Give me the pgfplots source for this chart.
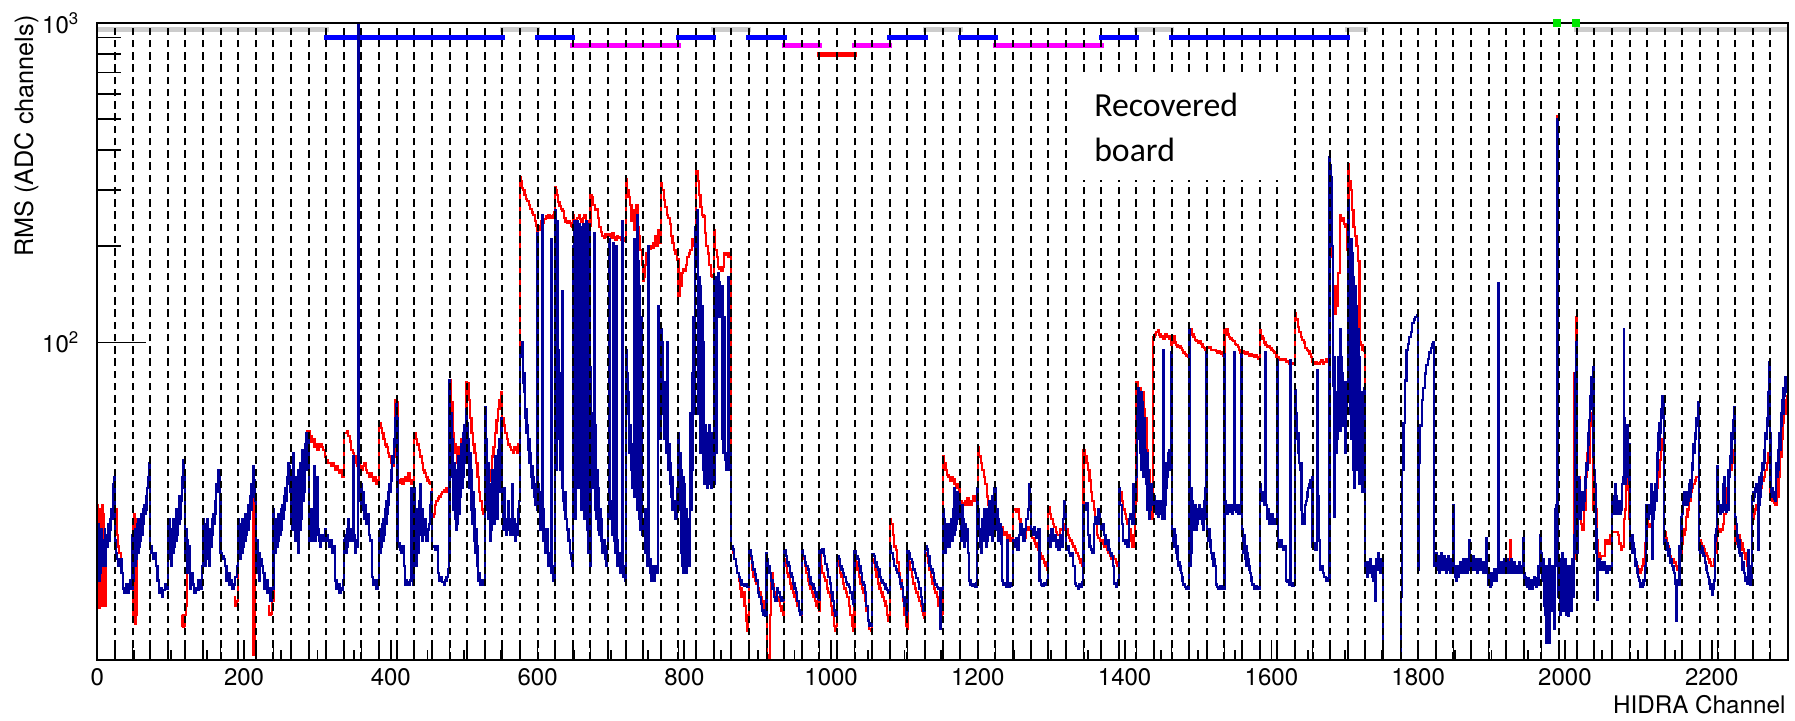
\documentclass[border=0pt]{standalone}
\usepackage{pgfplots}
\pgfplotsset{compat=1.18}
\usepackage{fontspec}
\setmainfont{TeX Gyre Heros}
\newfontfamily\calibri{Carlito}
\definecolor{rootblue}{RGB}{0,0,153}
\definecolor{rootred}{RGB}{255,0,0}
\definecolor{barblue}{RGB}{0,0,255}
\definecolor{bargray}{RGB}{204,204,204}
\definecolor{barmag}{RGB}{255,0,255}
\definecolor{barred}{RGB}{255,0,0}
\definecolor{bargreen}{RGB}{0,230,0}
\begin{document}
\begin{tikzpicture}
\useasboundingbox (0,0) rectangle (718pt,288.4pt);
\begin{axis}[
  at={(38.92pt,24.4pt)}, anchor=south west,
  scale only axis, width=676.28pt, height=254.8pt,
  xmin=0, xmax=2304, ymode=log, ymin=10.15, ymax=1000,
  axis line style={line width=0.8pt},
  xtick={0,200,...,2200},
  xticklabels={0,200,400,600,800,1000,1200,1400,1600,1800,2000,2200},
  minor x tick num=3,
  ytick={100,1000},
  yticklabels={10\textsuperscript{2},10\textsuperscript{3}},
  xtick pos=bottom, ytick pos=left,
  tick style={black, line width=0.7pt},
  every x tick/.append style={/pgfplots/major tick length=8pt,/pgfplots/minor tick length=4pt},
  every y tick/.append style={/pgfplots/major tick length=19.6pt,/pgfplots/minor tick length=9.6pt},
  ticklabel style={font=\fontsize{9.6}{11}\selectfont},
  yticklabel style={xshift=-3.6pt},
  extra x ticks={24,48,...,2280},
  extra x tick labels={},
  extra x tick style={grid=major, major tick length=0pt},
  major grid style={black, line width=0.8pt, dash pattern=on 3pt off 1.9pt},
  axis on top,
]
% top status bars
\addplot[bargray, line width=2pt, line cap=rect] coordinates {(0,954)(312,954)};
\addplot[bargray, line width=2pt, line cap=rect] coordinates {(552,954)(600,954)};
\addplot[bargray, line width=2pt, line cap=rect] coordinates {(840,954)(888,954)};
\addplot[bargray, line width=2pt, line cap=rect] coordinates {(1128,954)(1176,954)};
\addplot[bargray, line width=2pt, line cap=rect] coordinates {(1416,954)(1464,954)};
\addplot[bargray, line width=2pt, line cap=rect] coordinates {(1704,954)(1728,954)};
\addplot[bargray, line width=2pt, line cap=rect] coordinates {(2016,954)(2304,954)};
\addplot[barblue, line width=2pt, line cap=rect] coordinates {(312,901)(552,901)};
\addplot[barblue, line width=2pt, line cap=rect] coordinates {(600,901)(648,901)};
\addplot[barblue, line width=2pt, line cap=rect] coordinates {(792,901)(840,901)};
\addplot[barblue, line width=2pt, line cap=rect] coordinates {(888,901)(936,901)};
\addplot[barblue, line width=2pt, line cap=rect] coordinates {(1080,901)(1128,901)};
\addplot[barblue, line width=2pt, line cap=rect] coordinates {(1176,901)(1224,901)};
\addplot[barblue, line width=2pt, line cap=rect] coordinates {(1368,901)(1416,901)};
\addplot[barblue, line width=2pt, line cap=rect] coordinates {(1464,901)(1704,901)};
\addplot[barmag, line width=2pt, line cap=rect] coordinates {(648,850)(792,850)};
\addplot[barmag, line width=2pt, line cap=rect] coordinates {(936,850)(984,850)};
\addplot[barmag, line width=2pt, line cap=rect] coordinates {(1032,850)(1080,850)};
\addplot[barmag, line width=2pt, line cap=rect] coordinates {(1224,850)(1368,850)};
\addplot[barred, line width=2pt, line cap=rect] coordinates {(984,797)(1032,797)};
\addplot[only marks, mark=square*, mark size=1.3pt, color=bargreen] coordinates {(1989.5,1000)(2015,1000)};
% red series (visible parts)
\addplot[rootred, line width=0.9pt, const plot] coordinates {(0,31)(1,15)(2,30)(3,14.8)(4,28)(5,16)(6,31)(7,15)(8,29)(9,17)(10,26)(11,15)(12,25)(13,24)};
\addplot[rootred, line width=0.9pt, const plot] coordinates {(24,30)(26,25)(28,23)(30,22)(32,21)(34,19)};
\addplot[rootred, line width=0.9pt, const plot] coordinates {(48,28)(49,13.5)(50,29)(51,13.2)(52,27)(53,14)(54,28)(55,22)};
\addplot[rootred, line width=0.9pt, const plot] coordinates {(115,14)(116,13)(117,12.9)(118,13.5)(119,13)(120,14)(121,15)(122,19)};
\addplot[rootred, line width=0.9pt, const plot] coordinates {(186,16)(188,15)(190,15.5)(192,26)};
\addplot[rootred, line width=0.9pt, const plot] coordinates {(212,38)(213,10.5)(214,11)(215,32)};
\addplot[rootred, line width=0.9pt, const plot] coordinates {(232,15)(234,14)(236,14.2)(238,15.5)(240,28)};
\addplot[rootred, line width=0.9pt, const plot] coordinates {
(258,38)(260,37)(262,37)(264,36)(266,34)(268,38)(270,32)(272,35)(274,33)(276,30)(278,34)(280,40)(282,42)(284,47)(286,53)(287,51)
(288,53)(290,51)(292,49)(294,50)(296,47)(298,48)(300,46)(302,47)(304,48)(306,47)(308,46)(310,44)
(312,43)(314,42)(316,42)(318,41)(320,42)(322,41)(324,40)(326,41)(328,40)(330,39)(332,40)(334,38)
(336,52)(338,52)(340,53)(342,51)(344,49)(346,46)(348,45)(350,44)(352,42)(354,41)(356,42)(358,41)
(360,40)(362,41)(364,42)(366,40)(368,39)(370,38)(372,39)(374,38)(376,37)(378,38)(380,36)(382,37)
(384,56)(386,54)(388,52)(390,50)(392,48)(394,47)(396,45)(398,44)(400,42)(402,41)(404,44)(406,66)
(408,65)(409,40)(410,36.5)(412,37)(414,37.5)(416,36)(418,37)(420,38)(422,37)(424,39)(426,37)(428,36)(430,37)(431,36)
(432,52)(434,50)(436,48)(438,46)(440,44)(442,42)(444,40)(446,39)(448,38)(450,37)(452,36.5)(454,36)
(456,28.5)(458,29)(460,31)(462,32)(464,32.5)(466,33)(468,33.5)(470,34)(472,34.5)(474,34)(476,35)(478,34)
(480,76)(482,65)(484,52)(486,48)(488,45)(490,42)(492,47)(494,44)(496,50)(498,48)(500,52)(502,60)(503,75)
(504,74.5)(506,66)(508,58)(510,52)(512,48)(514,45)(516,42)(518,38)(520,34)(522,32)(524,30)(526,29)
(528,36)(530,35)(532,34)(534,37)(536,40)(538,44)(540,47)(542,52)(544,57)(546,62)(548,66)(550,70)(551,68)
(552,58)(554,55)(556,52)(558,50)(560,48)(562,47)(564,46)(566,45)(568,47)(570,46)(572,45)(574,48)
(576,330)(577,320)(578,305)(580,300)(582,290)(584,282)(586,278)(588,270)(590,262)(592,255)(594,250)(596,240)(598,232)(599,210)
(600,207)(601,225)(603,232)(605,240)(607,236)(609,244)(611,248)(613,246)(615,250)(617,248)(619,245)(621,250)(623,255)
(624,306)(625,300)(626,290)(628,275)(630,268)(632,262)(634,258)(636,245)(638,238)(640,236)(642,240)(644,236)(646,232)(647,230)
(648,250)(650,242)(652,238)(654,245)(656,250)(658,244)(660,238)(662,245)(664,250)(666,240)(668,236)(670,232)
(672,290)(674,285)(676,270)(678,260)(680,262)(682,245)(684,230)(686,222)(688,215)(690,212)(692,218)(694,214)
(696,218)(698,215)(700,212)(702,220)(704,214)(706,210)(708,216)(710,212)(712,214)(714,210)(716,208)(718,212)
(720,324)(722,300)(724,285)(726,270)(728,240)(730,260)(732,225)(734,270)(736,230)(738,215)(740,195)(742,175)
(744,156)(745,160)(746,175)(748,190)(750,195)(752,197)(754,200)(756,198)(758,205)(760,215)(762,200)(764,225)(766,205)
(768,316)(770,300)(772,280)(774,265)(776,250)(778,245)(780,235)(782,215)(784,205)(786,195)(788,190)(790,182)
(792,140)(794,150)(796,165)(798,170)(800,168)(802,175)(804,185)(806,190)(808,195)(810,210)(812,200)(814,215)
(816,345)(818,320)(820,290)(822,265)(824,250)(826,248)(828,220)(830,200)(832,190)(834,175)(836,162)(838,160)
(840,225)(842,195)(844,185)(846,172)(848,170)(850,168)(852,172)(854,190)(856,188)(858,190)(860,186)(862,190)
(864,23)(866,22)(868,21)(870,20)(872,19)(874,18)(876,17)(878,16)(880,16.5)(882,15)(884,13.5)(886,12.5)(887,14)
(888,22.4)(890,21)(892,19.5)(894,18.5)(896,18)(898,17.6)(900,17)(902,16.5)(904,16)(906,15.5)(908,14.5)(910,14)(911,14)
(912,20)(913,9)(914,9.5)(916,10.5)(917,14)(918,19)(920,17.5)(922,16.5)(924,16)(926,15.5)(928,16)(930,15)(932,14.5)(934,14)(935,15)
(936,21)(938,20)(940,19)(942,18.5)(944,17.6)(946,17)(948,16.5)(950,16)(952,15.5)(954,15)(956,14.5)(958,14)(959,14)
(960,22.4)(962,21)(964,20)(966,19)(968,18)(970,17.5)(972,17)(974,16.5)(976,16)(978,15.5)(980,15)(982,14.8)(983,14.5)
(984,22)(986,20)(988,19)(990,18.5)(992,18)(994,17)(996,16.5)(998,16)(1000,15)(1002,14)(1004,13)(1006,12.5)(1007,13)
(1008,21)(1010,20)(1012,19)(1014,18.5)(1016,17.6)(1018,17)(1020,16.5)(1022,16)(1024,15)(1026,14)(1028,13)(1030,12.5)(1031,12.6)
(1032,21.5)(1034,20.5)(1036,19.5)(1038,18.5)(1040,17.6)(1042,17)(1044,16.5)(1046,15.5)(1048,14.5)(1050,13.5)(1052,12.7)(1054,12.5)(1055,12.6)
(1056,21)(1058,20.5)(1060,19.5)(1062,18.5)(1064,17.6)(1066,17)(1068,16.5)(1070,16)(1072,15.5)(1074,15)(1076,14)(1078,13.5)(1079,13.5)
(1080,28)(1082,27)(1084,25)(1086,23)(1088,22.4)(1090,20.5)(1092,19)(1094,18)(1096,17)(1098,15.5)(1100,14)(1102,13)(1103,12.7)
(1104,21.5)(1106,20.5)(1108,19.5)(1110,18.5)(1112,17.6)(1114,17)(1116,16.5)(1118,16)(1120,15.5)(1122,15)(1124,14.5)(1126,14)(1127,13.7)
(1128,22)(1130,21.5)(1132,20.5)(1134,19.5)(1136,18.5)(1138,17.6)(1140,17)(1142,16.5)(1144,16)(1146,15)(1148,14.5)(1150,14)(1151,14.2)
(1152,44)(1154,42)(1156,40)(1158,38.5)(1160,38)(1162,37)(1164,38)(1166,37.5)(1168,36)(1170,35)(1172,36)(1174,34)(1175,35)
(1176,32)(1178,31.5)(1180,31)(1182,32)(1184,31)(1186,32.5)(1188,32)(1190,31)(1192,32)(1194,33)(1196,32)(1198,33)(1199,33)
(1200,47)(1202,44)(1204,42)(1206,40)(1208,38)(1210,36)(1212,33)(1214,31)(1216,29)(1218,28.5)(1220,30)(1222,29)(1223,28)
(1224,29)(1226,28)(1228,27)(1230,26)(1232,26.5)(1234,25.5)(1236,25)(1238,25.5)(1240,24)(1242,25)(1244,24)(1246,24.5)(1247,24)
(1248,30)(1250,30)(1252,29.5)(1254,30)(1256,28)(1258,26)(1260,25.5)(1262,25)(1264,24.5)(1266,26)(1268,26.5)(1270,26)(1271,26)
(1272,25)(1274,24.5)(1276,24)(1278,23.5)(1280,23)(1282,22.5)(1284,22)(1286,21.5)(1288,21)(1290,20.5)(1292,20)(1294,19.5)
(1296,30.5)(1298,29)(1300,28)(1302,27)(1304,26.5)(1306,25.5)(1308,25)(1310,25)(1312,26)(1314,26)(1316,27)(1318,26)(1319,26)
(1320,26)(1322,25)(1324,24.5)(1326,24)(1328,23.5)(1330,23)(1332,22.5)(1334,22)(1336,21.5)(1338,21)(1340,20.5)(1342,20)(1343,20)
(1344,46)(1346,44)(1348,42)(1350,40)(1352,37)(1354,34)(1356,32)(1358,30)(1360,27)(1362,25)(1364,24.5)(1366,24)(1367,24)
(1368,24)(1370,23.5)(1372,23)(1374,23)(1376,22.5)(1378,22)(1380,21.5)(1382,21)(1384,21.5)(1386,21)(1388,20.5)(1390,20)(1391,20)
(1392,35)(1394,34)(1396,32)(1398,30)(1400,29)(1402,28)(1404,27)(1406,26)(1408,24)(1410,23)(1412,25)(1414,30)(1415,32)
(1416,75)(1418,68)(1420,72)(1422,65)(1424,70)(1426,62)(1428,58)(1430,46)(1432,40)(1434,34)(1436,30)(1438,28)
(1439,104)(1441,106)(1443,108)(1445,109)(1447,106)(1449,104)(1451,105)(1453,103)(1455,106)(1457,104)(1459,105)(1461,103)(1463,98)
(1464,104)(1466,105)(1468,100)(1470,98)(1472,97)(1474,97.5)(1476,96)(1478,95)(1480,93)(1482,92)(1484,91)(1486,90)(1487,90)
(1488,109)(1490,110)(1492,106)(1494,104)(1496,102)(1498,101)(1500,100)(1502,101)(1504,99)(1506,97)(1508,96)(1510,95)(1511,95)
(1512,97)(1514,96)(1516,96.5)(1518,95)(1520,94.5)(1522,95)(1524,94)(1526,93)(1528,94)(1530,93)(1532,92)(1534,91)(1535,91)
(1536,109)(1538,110)(1540,106)(1542,104)(1544,103)(1546,102)(1548,101)(1550,99)(1552,98)(1554,97)(1556,95)(1558,93)(1559,93)
(1560,94)(1562,93)(1564,92)(1566,93)(1568,92)(1570,91)(1572,92)(1574,91)(1576,90)(1578,91)(1580,90)(1582,89)(1583,89)
(1584,109)(1586,105)(1588,103)(1590,100)(1592,98)(1594,97)(1596,97.5)(1598,96)(1600,95)(1602,94)(1604,93)(1606,91)(1607,90)
(1608,90)(1610,89)(1612,88.5)(1614,89)(1616,88)(1618,88.5)(1620,87)(1622,87.5)(1624,86)(1626,86)(1628,86.5)(1630,86)(1631,86)
(1632,124)(1634,118)(1636,112)(1638,108)(1640,104)(1642,102)(1644,100)(1646,96)(1648,95)(1650,94)(1652,92)(1654,90)(1655,89)
(1656,87)(1658,86)(1660,87)(1662,86.5)(1664,86)(1666,87)(1668,88)(1670,86)(1672,87)(1674,89)(1676,87)(1678,86)
(1679,263)(1681,230)(1682,185)(1684,150)(1686,123)(1688,130)(1690,150)(1691,165)(1693,250)(1695,240)(1697,245)(1699,235)(1701,230)(1703,195)(1704,175)
(1705,363)(1706,320)(1708,300)(1710,260)(1712,230)(1714,215)(1716,200)(1718,180)(1720,100)(1722,98)(1724,95)(1726,96)(1727,94)(1728,20)};
\addplot[rootred, line width=0.9pt, const plot] coordinates {(1924,19)(1925,24)(1926,19)};
\addplot[rootred, line width=0.9pt, const plot] coordinates {
(1986,20)(1988,31)(1989,510)(1990,21)(1992,19)(1996,20)(2000,19)(2004,20)(2008,19.5)(2012,21)(2013,80)(2015,120)(2016,25)(2017,26)(2018,37.8)(2020,33)(2022,27)(2024,26)(2026,30)(2028,38)(2030,45)(2032,42)(2034,55)(2036,60)(2038,58)
(2039,30)(2041,30)(2043,24)(2045,22)(2047,21)(2049,21.5)(2052,21.5)(2055,24)(2058,23.5)(2061,25)(2063,24)
(2064,25.5)(2068,25.5)(2072,25)(2074,23.5)(2076,22.5)(2078,23)(2080,28)(2082,30)(2083,34.5)(2084,51)(2085,40)(2087,35)(2088,28)
(2089,23)(2091,22.5)(2093,22)(2095,21)(2097,20)(2099,19.5)(2101,19)(2103,19.5)(2105,20)(2107,21)(2109,23.5)(2110,24)
(2111,28)(2113,27)(2115,26.5)(2117,27)(2119,28)(2121,30)(2123,32)(2125,35)(2127,38)(2129,43)(2131,46)(2133,50)
(2135,25.5)(2137,24.5)(2139,23)(2141,22)(2143,21.5)(2145,21)(2147,21)(2149,20.5)(2151,20)(2153,19.5)(2155,20)(2157,21)
(2159,23.5)(2161,25)(2163,26)(2165,28.5)(2167,30)(2169,32)(2171,34)(2173,35)(2175,36)(2177,37)(2179,38)(2181,38)
(2183,24)(2185,23.5)(2187,23)(2189,22.5)(2191,22)(2193,21.5)(2195,21)(2197,20.5)(2199,20)(2201,20)(2203,21)(2205,22)
(2207,27)(2209,26)(2211,25.5)(2213,26)(2215,27)(2217,29)(2219,32)(2221,35)(2223,38)(2225,40)(2227,42)(2229,44)(2231,46)
(2232,24)(2234,23.5)(2236,25)(2238,24)(2240,23.5)(2242,22.5)(2244,22)(2246,21)(2248,20)(2250,19.5)(2252,19)(2254,20)
(2255,28)(2257,29)(2259,30)(2261,31)(2263,32)(2265,33)(2267,35)(2269,37)(2271,38)(2273,40)(2275,42)(2277,45)
(2279,33)(2281,32.5)(2283,32)(2285,31.5)(2287,31)(2289,33)(2291,38)(2293,44)(2295,50)(2297,56)(2299,60)(2301,66)(2303,68)(2304,68)};
% blue series
\addplot[rootblue, line width=0.9pt, const plot] coordinates {
(0,22)(1,27)(2,18)(3,25)(4,19)(5,26)(6,20)(7,24)(8,22)(10,26)(11,20)(12,25)(14,23)(15,27)(16,24)(17,28)(18,26)(19,30)(20,28)(21,33)(22,36)(23,38)
(24,24)(25,22)(27,21)(29,20)(31,21)(33,19)(35,17)(37,16.5)(39,17.5)(41,16.5)(43,17)(45,18)(47,17)
(48,25)(49,18)(50,24)(51,20)(52,26)(53,21)(54,27)(55,22)(56,28)(57,23)(58,27)(59,24)(60,29)(61,25)(62,30)(63,27)(64,31)(65,29)(66,33)(67,30)(68,35)(69,38)(70,42)(71,40)
(72,23)(74,22)(76,21)(78,22)(80,20)(82,18)(84,16.5)(86,17)(88,16)(90,16.8)(92,17.5)(94,17)
(96,27)(97,22)(98,28)(99,21)(100,26)(101,20)(102,25)(103,22)(104,28)(105,23)(106,26)(107,24)(108,30)(109,25)(110,28)(111,27)(112,33)(113,28)(114,32)(115,35)(116,38)(117,43)(118,40)(119,36)
(120,22)(121,26)(122,19)(123,24)(124,20)(125,23)(126,17)(128,19)(130,17.5)(132,16.5)(134,17)(136,16.8)(138,18)(140,17)(142,18)(143,20)
(144,28)(145,21)(146,27)(147,20)(148,26)(149,21)(150,28)(151,22)(152,25)(153,20)(154,26)(155,23)(156,28)(157,25)(158,29)(159,27)(160,32)(161,29)(162,36)(163,34)(164,40)(165,36)(166,38)(167,33)
(168,22)(170,21.5)(172,21)(174,20)(176,18)(178,19)(180,17.5)(182,18)(184,17)(186,17.5)(188,18.5)(190,19)(191,20)
(192,28)(193,22)(194,27)(195,21)(196,26)(197,22)(198,28)(199,23)(200,27)(201,24)(202,29)(203,25)(204,28)(205,26)(206,31)(207,28)(208,33)(209,30)(210,36)(211,33)(212,38)(213,41)(214,37)(215,32)
(216,22)(217,20)(218,24)(219,19)(220,22)(221,18)(222,21)(224,20)(226,19)(228,17)(230,18)(232,16.5)(234,17)(236,15.5)(238,17)
(240,30)(241,24)(242,28)(243,22)(244,26)(245,23)(246,29)(247,24)(248,28)(249,25)(250,30)(251,26)(252,31)(253,28)(254,33)(255,30)(256,35)(257,32)(258,38)(259,36)(260,42)(261,39)(262,41)(263,34)
(264,28)(265,40)(266,26)(267,45)(268,30)(269,38)(270,24)(271,34)(272,27)(273,40)(274,22)(275,36)(276,26)(277,42)(278,28)(279,46)(280,32)(281,44)(282,34)(283,48)(284,40)(285,52)(286,45)(287,50)
(288,25)(289,24)(290,26)(291,24)(292,30)(293,25)(294,24)(295,41)(296,25)(297,24)(298,26)(299,25)(300,38)(301,26)(302,24)(303,25)(304,23)(305,25)(306,24)(308,25)(310,24)(311,26)
(312,25)(314,24)(316,23)(318,24)(320,22)(322,23)(324,18)(326,17)(328,17.5)(330,16.5)(332,17)(334,16.8)(335,18)
(336,24)(337,23)(338,25)(339,22)(340,26)(341,23)(342,28)(343,24)(344,26)(345,25)(346,24)(348,26)(349,44)(350,25)(351,24)(352,22)(353,24)(354,23)(355,2000)(356,42)(357,36)(358,32)(359,30)
(360,36)(361,30)(362,34)(363,28)(364,31)(366,27)(368,29)(370,25)(372,24)(374,18.5)(376,17.5)(378,18)(380,17)(382,17.5)(383,18)
(384,25)(385,22)(386,26)(387,23)(388,27)(389,24)(390,28)(391,25)(392,30)(393,27)(394,32)(395,29)(396,34)(397,31)(398,36)(399,34)(400,40)(401,37)(402,44)(403,42)(404,50)(405,47)(406,58)(407,64)
(408,58)(409,23)(410,23.5)(412,22.5)(414,22)(416,23)(418,20)(419,17.5)(420,18)(422,17.8)(424,17.5)(426,18)(428,35)(429,18)(430,17.5)(431,17.6)
(432,35)(433,22)(434,30)(435,20)(436,28)(437,22)(438,32)(439,25)(440,36)(441,26)(442,30)(443,24)(444,28)(446,25)(447,28)(448,24)(450,26)(452,27)(454,31)(455,34)
(456,23)(458,23)(460,22.5)(462,23)(464,19)(466,18)(468,18.5)(470,17.8)(472,17.5)(474,18)(476,18.5)(478,19.5)(479,21)
(480,76)(481,45)(482,60)(483,38)(484,50)(485,30)(486,42)(487,28)(488,36)(489,26)(490,40)(491,27)(492,44)(493,29)(494,40)(495,33)(496,48)(497,35)(498,52)(499,38)(500,55)(501,42)(502,58)(503,62)
(504,56)(505,42)(506,50)(507,35)(508,45)(509,30)(510,40)(511,27)(512,34)(513,24)(514,30)(515,22)(516,26)(517,20)(518,23)(519,18)(520,19)(522,17.5)(524,18)(526,17.4)(527,18)
(528,63)(529,40)(530,50)(531,30)(532,42)(533,28)(534,36)(535,24)(536,33)(537,26)(538,40)(539,30)(540,35)(541,27)(542,44)(543,32)(544,38)(545,28)(546,46)(547,34)(548,50)(549,40)(550,58)(551,48)
(552,30)(553,26)(554,28)(555,35)(556,27)(557,25)(558,28)(559,26)(560,32)(561,27)(562,25)(563,28)(564,26)(565,36)(566,27)(567,25)(568,28)(569,24)(570,26)(571,27)(572,25)(573,30)(574,28)(575,32)
(576,95)(578,90)(579,100)(580,75)(581,80)(582,70)(583,58)(584,62)(585,52)(586,55)(587,46)(588,50)(589,42)(590,45)(591,38)(592,41)(593,35)(594,38)(595,33)(596,36)(597,31)(598,33)(599,30)
(600,220)(601,36)(602,30)(603,34)(604,26)(605,28)(606,250)(607,30)(608,24)(610,22)(612,26)(614,20)(616,22)(618,19)(619,210)(620,20)(621,18)(622,19)(623,18)
(624,260)(625,40)(626,240)(627,70)(628,95)(629,50)(630,80)(631,40)(632,65)(633,35)(634,145)(635,32)(636,30)(637,34)(638,28)(640,26)(642,24)(644,22)(646,21)(647,20)
(648,200)(649,30)(650,240)(651,28)(652,230)(653,40)(654,240)(655,35)(656,235)(657,45)(658,230)(659,30)(660,225)(661,50)(662,235)(663,28)(664,230)(665,40)(666,240)(667,26)(668,230)(669,22)(670,235)(671,20)
(672,84)(673,40)(674,60)(675,35)(676,45)(677,220)(678,30)(679,55)(680,28)(681,40)(682,26)(683,35)(684,25)(685,30)(686,24)(687,28)(688,22)(690,24)(692,21)(694,20)(695,23)
(696,30)(697,210)(698,35)(699,28)(700,32)(701,25)(702,28)(703,205)(704,24)(705,26)(706,22)(707,200)(708,24)(709,20)(710,22)(712,19)(714,21)(715,240)(716,18.5)(718,20)(719,18)
(720,95)(721,75)(722,80)(723,60)(724,70)(725,45)(726,55)(727,40)(728,48)(729,35)(730,42)(731,33)(732,210)(733,35)(734,40)(735,250)(736,30)(737,180)(738,28)(739,150)(740,26)(741,120)(742,25)(743,26)
(744,28)(745,25)(746,30)(747,22)(748,24)(749,20)(750,22)(751,200)(752,20)(753,19)(754,21)(755,18)(756,20)(757,18.5)(758,19)(759,18)(760,20)(762,19)(764,130)(765,85)(766,60)(767,50)
(768,110)(769,80)(770,100)(771,60)(772,75)(773,50)(774,65)(775,45)(776,100)(777,45)(778,40)(779,48)(780,36)(781,42)(782,33)(783,38)(784,30)(786,32)(788,28)(790,35)(791,40)
(792,52)(793,30)(794,45)(795,22)(796,40)(797,20)(798,38)(799,19)(800,36)(801,20)(802,30)(803,19)(804,28)(805,22)(806,25)(807,20)(808,60)(809,30)(810,80)(811,40)(812,120)(813,60)(814,200)(815,230)
(816,190)(817,260)(818,175)(819,60)(820,160)(821,45)(822,150)(823,50)(824,130)(825,40)(826,100)(827,36)(828,55)(829,38)(830,52)(831,35)(832,48)(833,36)(834,55)(835,40)(836,50)(837,35)(838,52)(839,42)
(840,160)(841,36)(842,150)(843,45)(844,160)(845,120)(846,165)(847,130)(848,155)(849,120)(850,140)(851,50)(852,150)(853,45)(854,120)(855,45)(856,43)(857,40)(858,44)(859,160)(860,42)(861,40)(862,45)(863,41)
(864,23)(866,22.5)(868,21)(870,20)(872,19)(874,18.5)(876,18)(878,17.5)(880,17.5)(882,17.3)(884,17.5)(886,17.2)
(888,22.4)(890,21.5)(892,20.5)(894,19.5)(896,18.8)(898,18)(900,16.5)(902,16)(904,15.2)(906,14.5)(908,14)(910,13.9)(911,14)
(912,22)(913,21)(914,20)(916,19)(918,18)(920,17)(922,16)(924,15.5)(926,17)(928,16.5)(930,16)(932,15.5)(934,15.6)(935,16)
(936,22.4)(938,21.5)(940,20.5)(942,20)(944,19)(946,18.5)(948,17.6)(950,17)(952,16.5)(954,15.5)(956,14.5)(958,14)(959,14.2)
(960,22.4)(962,21.5)(964,20.5)(966,20)(968,19.5)(970,18.5)(972,17.6)(974,17.5)(976,17)(978,16.5)(980,16)(982,15.8)(983,15.6)
(984,22.4)(986,22)(988,22.6)(990,21.5)(992,20.3)(994,19.5)(996,18.5)(998,17.6)(1000,16.5)(1002,15.5)(1004,14.5)(1006,13.9)(1007,14)
(1008,21.5)(1010,21)(1012,20)(1014,19.5)(1016,19)(1018,18.5)(1020,17.8)(1022,17.5)(1024,17.2)(1026,16.5)(1028,15.8)(1030,15.2)(1031,15)
(1032,22.2)(1034,21.5)(1036,21)(1038,20)(1040,19)(1042,17.8)(1044,17.4)(1046,16.5)(1048,15)(1050,13.5)(1052,13)(1054,13.2)(1055,13)
(1056,21.8)(1058,21.5)(1060,20.5)(1062,19.8)(1064,19.5)(1066,18.5)(1068,18)(1070,17.7)(1072,17.5)(1074,17)(1076,16.8)(1078,16.5)(1079,16.6)
(1080,23)(1082,22)(1084,21)(1086,20)(1088,19.5)(1090,19)(1092,18.5)(1094,17.6)(1096,17.2)(1098,16)(1100,15)(1102,14)(1103,14.5)
(1104,22.2)(1106,22)(1108,21)(1110,20.5)(1112,19.5)(1114,19)(1116,18.3)(1118,17.8)(1120,17)(1122,16)(1124,15.2)(1126,14.5)(1127,14.5)
(1128,23)(1130,22.5)(1132,21.5)(1134,20)(1136,19.5)(1138,19)(1140,18)(1142,17.5)(1144,17.2)(1146,17)(1148,16.5)(1149,12.7)(1150,16.5)(1151,17)
(1152,30)(1153,24)(1154,28)(1155,22)(1156,27)(1157,23)(1158,26)(1159,24)(1160,27)(1161,23)(1162,26)(1163,25)(1164,28)(1165,24)(1166,30)(1167,25)(1168,35)(1169,26)(1170,33)(1171,27)(1172,34)(1173,28)(1174,32)(1175,30)
(1176,30)(1177,24)(1178,31)(1179,25)(1180,28)(1181,23)(1182,27)(1184,24)(1186,26)(1187,22)(1188,18)(1190,17.5)(1192,17.3)(1194,17.5)(1196,17.2)(1198,17.6)(1199,35)
(1200,30)(1202,26)(1203,23)(1204,25)(1205,22)(1206,28)(1207,24)(1208,30)(1209,25)(1210,27)(1211,23)(1212,30)(1213,24)(1214,28)(1215,26)(1216,32)(1217,25)(1218,30)(1219,24)(1220,33)(1221,26)(1222,35)(1223,28)
(1224,35)(1225,26)(1226,30)(1227,24)(1228,28)(1229,25)(1230,27)(1231,23.5)(1232,26)(1233,18)(1234,17.5)(1236,17.6)(1238,17.2)(1240,24)(1241,17.5)(1242,17.2)(1244,17.6)(1246,17.3)(1247,17.5)
(1248,24)(1250,23)(1252,24.5)(1254,22.5)(1256,25)(1258,27)(1260,26)(1262,24)(1264,26)(1266,28)(1268,30)(1270,36)(1271,33)
(1272,26)(1274,25)(1276,26.5)(1278,25.5)(1280,24.5)(1282,26)(1284,18)(1286,17.5)(1288,17.3)(1290,17.6)(1292,17.5)(1294,18)
(1296,25)(1298,23)(1300,26)(1302,24)(1304,25)(1306,23)(1308,24)(1310,22.5)(1312,25)(1314,23)(1316,28)(1318,32)(1319,30)
(1320,22.5)(1322,23)(1324,22)(1326,21.5)(1328,22)(1330,20)(1332,17.6)(1334,17.3)(1336,17)(1338,17.5)(1340,17.2)(1342,17.8)(1343,19)
(1344,31)(1346,30)(1348,31.5)(1350,25)(1352,23)(1354,22.5)(1356,22)(1358,27)(1360,28.5)(1362,27)(1364,30)(1366,27)(1367,28)
(1368,26)(1370,27)(1372,25)(1374,23.5)(1376,24)(1378,22.5)(1380,22)(1382,21.5)(1384,20)(1386,17.6)(1388,17.2)(1390,17.5)(1391,18)
(1392,35)(1394,31)(1396,27)(1398,24)(1400,23.5)(1402,24)(1404,23)(1406,28)(1408,29)(1410,27)(1412,36)(1414,33)(1415,38)
(1416,38)(1417,60)(1418,72)(1419,50)(1420,68)(1421,45)(1422,70)(1423,40)(1424,65)(1425,38)(1426,58)(1427,42)(1428,46)(1429,36)(1430,45)(1431,30)(1432,40)(1433,28)(1434,34)(1435,30)(1436,36)(1437,32)(1438,33)(1439,31)
(1440,33)(1441,30)(1442,31)(1443,29)(1444,32)(1445,30)(1446,28.5)(1447,31)(1448,29)(1449,32)(1450,30)(1451,28)(1452,95)(1453,30)(1454,28)(1455,31)(1456,35)(1457,42)(1458,38)(1459,45)(1460,40)(1461,46)(1462,44)(1463,93)
(1464,93)(1465,25)(1466,24)(1467,26)(1468,23)(1469,25)(1470,22)(1471,23)(1472,21)(1473,20)(1474,20.5)(1475,19.5)(1476,20)(1477,19)(1478,18.5)(1479,18)(1480,17.5)(1482,17.2)(1484,17)(1486,17.3)(1487,17)
(1488,110)(1489,20)(1490,35)(1491,22)(1492,32)(1493,26)(1494,30)(1495,27)(1496,31)(1497,26)(1498,29)(1499,27)(1500,30)(1501,28)(1502,31)(1503,28)(1504,29)(1505,27)(1506,30)(1507,26)(1508,32)(1509,28)(1510,35)(1511,93)
(1512,26)(1513,25)(1514,24)(1515,26)(1516,23)(1517,24)(1518,22)(1519,21)(1520,22)(1521,20)(1522,21)(1523,20)(1524,18)(1525,17.5)(1526,17.2)(1528,17)(1530,17.3)(1532,17)(1534,17.2)(1535,17)
(1536,92)(1537,32)(1538,30)(1539,31)(1540,29)(1541,30.5)(1542,30)(1543,31)(1544,29.5)(1545,30)(1546,31)(1547,29)(1548,30)(1549,93)(1550,31)(1551,30)(1552,29.5)(1553,30)(1554,31)(1555,29)(1556,30)(1557,29)(1558,30)
(1559,92)(1560,26)(1561,24)(1562,22)(1563,25)(1564,21)(1565,23)(1566,20)(1567,22)(1568,21)(1569,19.5)(1570,20)(1571,19)(1572,18.5)(1573,18)(1574,17.5)(1576,17)(1578,17.3)(1580,17)(1582,17.2)(1583,17)
(1584,36)(1585,33)(1586,32)(1587,34)(1588,32.5)(1589,33)(1590,31)(1591,32)(1592,93)(1593,31)(1594,28)(1595,30)(1596,29)(1597,27)(1598,29)(1599,28)(1600,27)(1601,29)(1602,28)(1603,27)(1604,28)(1605,27.5)(1606,28)(1607,27)
(1608,88)(1609,24)(1610,23)(1612,24)(1614,23)(1616,22.5)(1618,23)(1620,18)(1622,17.8)(1624,17.5)(1626,88)(1627,17.6)(1628,17.3)(1630,17.5)(1631,17.6)
(1632,71)(1633,52)(1634,60)(1635,50)(1636,52)(1637,45)(1638,42)(1639,40)(1640,42)(1641,30)(1642,27)(1643,28)(1644,27)(1645,29)(1646,31)(1647,32)(1648,34)(1649,33)(1650,35)(1651,36)(1652,35)(1653,37)(1654,36)(1655,38)
(1656,23)(1658,23.5)(1660,22.5)(1662,82)(1663,34.5)(1664,33)(1665,24)(1666,20)(1667,19.5)(1668,20)(1670,19)(1672,18.5)(1674,18)(1676,18.3)(1678,18)
(1679,380)(1680,360)(1681,330)(1682,207)(1683,200)(1684,73)(1685,90)(1686,28.5)(1687,60)(1688,45)(1689,70)(1690,50)(1691,90)(1692,60)(1693,110)(1694,53)(1695,90)(1696,60)(1697,80)(1698,55)(1699,75)(1700,45)(1701,70)(1702,60)(1703,75)(1704,65)
(1705,280)(1706,200)(1707,60)(1708,210)(1709,50)(1710,190)(1711,40)(1712,160)(1713,35)(1714,150)(1715,45)(1716,130)(1717,40)(1718,110)(1719,36)(1720,90)(1721,40)(1722,70)(1723,34)(1724,65)(1725,38)(1726,72)(1727,35)
(1728,20)(1729,19)(1730,20.5)(1731,18.5)(1732,20)(1733,19)(1734,21)(1735,19.5)(1736,20)(1737,18.5)(1738,19.5)(1739,18)(1740,20)(1741,15.5)(1742,19)(1743,21)(1744,19.5)(1745,22)(1746,20)(1747,21)(1748,19)(1749,20.5)(1750,19)(1751,21)
(1752,10.16)(1777,16)(1778,40)(1780,56)(1782,76)(1784,95)(1786,99)(1788,104)(1790,108)(1792,115)(1794,118)(1796,120)(1798,122)(1799,121)
(1800,19.5)(1801,42)(1803,55)(1805,66)(1807,72)(1809,80)(1811,85)(1813,89)(1815,93)(1817,96)(1819,99)(1821,100)
(1822,20)(1823,21.5)(1824,19.5)(1825,22)(1826,20)(1827,21)(1828,19)(1829,21.5)(1830,20)(1831,22)(1832,19.5)(1833,21)(1834,20)(1835,21.5)(1836,19.5)(1837,20.5)(1838,19)(1839,21)(1840,20)(1841,21.5)(1842,19.5)(1843,20.5)(1844,19)(1845,21)(1846,20)(1847,31)
(1848,20)(1849,19)(1850,18.5)(1851,20)(1852,18)(1853,19.5)(1854,18.5)(1855,20)(1856,19)(1857,20.5)(1858,19.5)(1859,20)(1860,19)(1861,21)(1862,19.5)(1863,20.5)(1864,19)(1865,21)(1866,20)(1867,19)(1868,20.5)(1869,19.5)(1870,24)(1871,20)
(1872,19.5)(1873,21)(1874,20)(1875,21.5)(1876,19.5)(1877,21)(1878,20)(1879,20.5)(1880,19)(1881,21)(1882,20)(1883,20.5)(1884,19.5)(1885,21)(1886,20)(1887,19.5)(1888,20.5)(1889,19)(1890,20)(1891,19)(1892,20.5)(1893,24.5)(1894,19.5)(1895,18)
(1896,17.5)(1897,19)(1898,17.2)(1899,18.5)(1900,17.5)(1901,19)(1902,18)(1903,19.5)(1904,18.5)(1905,19)(1906,18)(1907,19.5)(1908,19)(1909,153)(1910,19)(1911,20)(1912,19.5)(1913,20.5)(1914,19)(1915,20.5)(1916,19.5)(1917,21)(1918,19)(1919,20)
(1920,19)(1921,21)(1922,19.5)(1923,20)(1924,19)(1925,20.5)(1926,19.5)(1927,21)(1928,19)(1929,20)(1930,19.5)(1931,20.5)(1932,19)(1933,20)(1934,19.5)(1935,20)(1936,19)(1937,20.5)(1938,19.5)(1939,20)(1940,19)(1941,20)(1942,19.5)(1943,24.5)
(1944,19)(1945,18)(1946,18.5)(1947,17.5)(1948,18)(1949,17.2)(1950,18.3)(1951,17)(1952,18)(1953,17.3)(1954,17.8)(1955,17)(1956,18)(1957,17.5)(1958,18.5)(1959,17.6)(1960,18)(1961,17.2)(1962,18.3)(1963,17.5)(1964,20)(1965,19)(1966,25)(1967,19.5)
(1968,22)(1969,18)(1970,21)(1971,15)(1972,20)(1973,14)(1974,19.5)(1975,11.5)(1976,20)(1977,13)(1978,21)(1979,11.5)(1980,19)(1981,15)(1982,20)(1983,14.5)(1984,19)(1985,12.7)(1986,20)(1987,30)(1988,31)(1989,500)(1990,21)(1991,16)
(1992,21)(1993,14)(1994,20)(1995,15)(1996,22)(1997,14.5)(1998,20)(1999,16)(2000,21)(2001,14)(2002,19)(2003,15)(2004,20)(2005,13.9)(2006,19)(2007,15)(2008,20)(2009,14.5)(2010,21)(2011,16)(2012,22)(2013,25)(2014,80)(2015,100)
(2016,22.5)(2017,22)(2018,38)(2019,30)(2020,37)(2021,28)(2022,33)(2023,30)(2024,34)(2025,30)(2026,32)(2027,35)(2028,38)(2029,42)(2030,40)(2031,48)(2032,52)(2033,57)(2034,68)(2035,62)(2036,78)(2037,72)(2038,84)
(2039,44)(2040,40)(2041,36)(2042,26)(2043,22)(2044,15.6)(2045,21)(2046,20)(2047,21)(2048,19.5)(2049,20.5)(2050,19.8)(2051,20)(2052,19.5)(2053,20.5)(2054,19.5)(2055,20)(2056,19)(2058,20)(2060,19.5)(2062,20)(2063,19.8)
(2064,33)(2065,30)(2066,32)(2067,29)(2068,36)(2069,30)(2070,33)(2071,29)(2072,32)(2073,30)(2074,31)(2075,29)(2076,32)(2077,30)(2078,36)(2079,38)(2080,110)(2081,58)(2082,36)(2083,50)(2084,40)(2085,55)(2086,38)(2087,48)(2088,36)
(2089,24)(2090,23)(2091,25)(2092,22)(2093,23.5)(2094,22.5)(2095,21)(2096,20)(2097,20.5)(2098,19.5)(2099,19)(2100,18.5)(2101,18)(2102,17.5)(2103,17.2)(2104,17.6)(2105,17.2)(2106,18)(2107,17.5)(2108,18)(2109,20)(2110,24)
(2111,31)(2112,29)(2113,30.5)(2114,28)(2115,31)(2116,29)(2117,36)(2118,30)(2119,21)(2120,28)(2121,34)(2122,30)(2123,36)(2124,32)(2125,45)(2126,40)(2127,52)(2128,46)(2129,56)(2130,52)(2131,62)(2132,58)(2133,68)(2134,66)
(2135,23.5)(2136,23)(2137,24)(2138,22.5)(2139,23.5)(2140,22)(2141,21.5)(2142,22.5)(2143,21)(2144,20.5)(2145,21)(2146,20)(2147,19.5)(2148,20)(2149,19)(2150,17.6)(2151,18)(2152,13.5)(2153,17.6)(2154,18)(2155,17.5)(2156,23)(2157,22)(2158,23.5)
(2159,28.5)(2160,29)(2161,33)(2162,31)(2163,34)(2164,32)(2165,33.5)(2166,31)(2167,34)(2168,32)(2169,36)(2170,33)(2171,37)(2172,35)(2173,42)(2174,40)(2175,48)(2176,45)(2177,52)(2178,50)(2179,58)(2180,55)(2181,65)(2182,62)
(2183,22.5)(2184,22)(2185,23)(2186,22.3)(2187,22.7)(2188,21.5)(2189,22)(2190,21.5)(2191,20.5)(2192,20)(2193,19.5)(2194,19)(2195,18.5)(2196,18)(2197,17.6)(2198,17)(2199,17.5)(2200,16.2)(2201,17.4)(2202,17)(2203,18)(2204,25)(2205,24)(2206,26)
(2207,41)(2208,38)(2209,32)(2210,30)(2211,31)(2212,29)(2213,30.5)(2214,29.5)(2215,36)(2216,33)(2217,38)(2218,30)(2219,31)(2220,29.5)(2221,31)(2222,30)(2223,40)(2224,38)(2225,44)(2226,42)(2227,52)(2228,50)(2229,57)(2230,60)(2231,63)
(2232,28.5)(2233,27)(2234,25)(2235,24)(2236,23)(2237,24)(2238,22)(2239,21.5)(2240,22)(2241,20.5)(2242,19.5)(2243,20.5)(2244,19)(2245,18.5)(2246,18)(2247,18.5)(2248,17.6)(2249,18)(2250,22.4)(2251,20)(2252,19.5)(2253,17.5)(2254,18)
(2255,33)(2256,32)(2257,34)(2258,33)(2259,35)(2260,34)(2261,36)(2262,35.5)(2263,22.4)(2264,31)(2265,38)(2266,33)(2267,39)(2268,36)(2269,42)(2270,40)(2271,46)(2272,42)(2273,52)(2274,50)(2275,58)(2276,55)(2277,70)(2278,87)
(2279,52)(2280,36)(2281,34)(2282,35)(2283,33)(2284,34)(2285,32.5)(2286,33)(2287,32)(2288,42)(2289,38)(2290,46)(2291,40)(2292,52)(2293,46)(2294,60)(2295,55)(2296,66)(2297,60)(2298,72)(2299,68)(2300,78)(2301,75)(2302,70)(2303,72)(2304,72)};
\end{axis}
\node[rotate=90, anchor=base east, inner sep=0pt, font=\fontsize{10.1}{12}\selectfont] at (13.2pt,282.4pt) {RMS (ADC channels)};
\node[anchor=base east, inner sep=0pt, font=\fontsize{9.7}{11}\selectfont] at (714.4pt,2.8pt) {HIDRA Channel};
\fill[white] (430pt,216.4pt) rectangle (514pt,259.6pt);
\node[anchor=base west, inner sep=0pt, font=\calibri\fontsize{13.5}{16}\selectfont] at (437.5pt,241.6pt) {Recovered};
\node[anchor=base west, inner sep=0pt, font=\calibri\fontsize{13.5}{16}\selectfont] at (437.5pt,223.6pt) {board};
\end{tikzpicture}
\end{document}
